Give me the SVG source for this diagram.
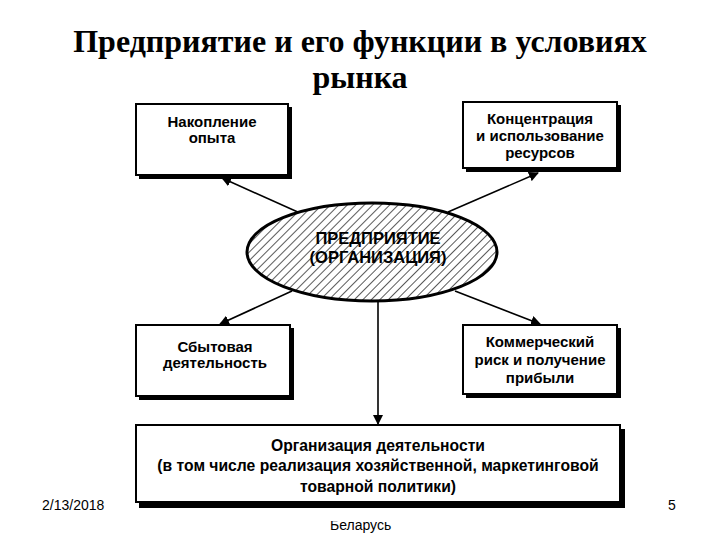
<svg xmlns="http://www.w3.org/2000/svg" width="720" height="540" viewBox="0 0 720 540">
<defs>
<pattern id="hatch" patternUnits="userSpaceOnUse" width="6" height="6" patternTransform="rotate(45)">
<rect width="6" height="6" fill="#fff"/>
<line x1="0" y1="0" x2="0" y2="6" stroke="#000" stroke-width="1.3"/>
</pattern>
<marker id="arr" markerWidth="10" markerHeight="10" refX="9" refY="5" orient="auto" markerUnits="userSpaceOnUse">
<path d="M0,0 L10,5 L0,10 Z" fill="#000"/>
</marker>
<clipPath id="footclip"><rect x="300" y="521" width="120" height="19"/></clipPath>
</defs>
<style>
.title{font-family:"Liberation Serif","Times New Roman",serif;font-weight:bold;font-size:32px;fill:#000;text-anchor:middle}
.t{font-family:"Liberation Sans",Arial,sans-serif;font-weight:bold;font-size:15px;fill:#000;text-anchor:middle}
.tb{font-family:"Liberation Sans",Arial,sans-serif;font-weight:bold;font-size:15.7px;fill:#000;text-anchor:middle}
.e{font-family:"Liberation Sans",Arial,sans-serif;font-weight:bold;font-size:16.5px;fill:#000;text-anchor:middle}
.small{font-family:"Liberation Sans",Arial,sans-serif;font-size:14px;fill:#000}
.box{fill:#fff;stroke:#000;stroke-width:2}
.sh{fill:#000}
.c{stroke:#000;stroke-width:1.6;fill:none}
</style>
<rect width="720" height="540" fill="#fff"/>
<text class="title" x="360" y="52">Предприятие и его функции в условиях</text>
<text class="title" x="360" y="88">рынка</text>

<g id="connectors">
<line class="c" x1="300" y1="213" x2="222" y2="178" marker-end="url(#arr)"/>
<line class="c" x1="448" y1="212" x2="538" y2="173" marker-end="url(#arr)"/>
<line class="c" x1="292" y1="291" x2="220" y2="324" marker-end="url(#arr)"/>
<line class="c" x1="455" y1="291" x2="540" y2="324" marker-end="url(#arr)"/>
<line class="c" x1="378" y1="302" x2="378" y2="424" marker-end="url(#arr)"/>
</g>

<g id="n1">
<rect class="sh" x="139" y="107" width="153" height="72"/>
<rect class="box" x="136" y="104" width="152" height="71"/>
<text class="t" x="212" y="127">Накопление</text>
<text class="t" x="212" y="143">опыта</text>
</g>
<g id="n2">
<rect class="sh" x="466" y="105" width="155" height="67"/>
<rect class="box" x="463" y="102" width="154" height="66"/>
<text class="t" x="540" y="124">Концентрация</text>
<text class="t" x="540" y="141">и использование</text>
<text class="t" x="540" y="158">ресурсов</text>
</g>
<g id="center">
<ellipse cx="372" cy="252" rx="125" ry="49" fill="url(#hatch)" stroke="#000" stroke-width="3"/>
<text class="e" x="378" y="244">ПРЕДПРИЯТИЕ</text>
<text class="e" x="378" y="263">(ОРГАНИЗАЦИЯ)</text>
</g>
<g id="n3">
<rect class="sh" x="139" y="328" width="155" height="72"/>
<rect class="box" x="136" y="325" width="154" height="71"/>
<text class="t" x="215" y="352">Сбытовая</text>
<text class="t" x="215" y="368">деятельность</text>
</g>
<g id="n4">
<rect class="sh" x="466" y="328" width="155" height="70"/>
<rect class="box" x="463" y="325" width="154" height="69"/>
<text class="t" x="540" y="347">Коммерческий</text>
<text class="t" x="540" y="365">риск и получение</text>
<text class="t" x="540" y="383">прибыли</text>
</g>
<g id="n5">
<rect class="sh" x="139" y="429" width="486" height="79"/>
<rect class="box" x="136" y="425" width="484" height="77"/>
<text class="tb" x="378" y="451">Организация деятельности</text>
<text class="tb" x="378" y="471">(в том числе реализация хозяйственной, маркетинговой</text>
<text class="tb" x="378" y="492">товарной политики)</text>
</g>
<text class="small" x="42" y="510">2/13/2018</text>
<text class="small" x="668" y="510">5</text>
<text class="small" x="330" y="530" clip-path="url(#footclip)">Беларусь</text>
</svg>
